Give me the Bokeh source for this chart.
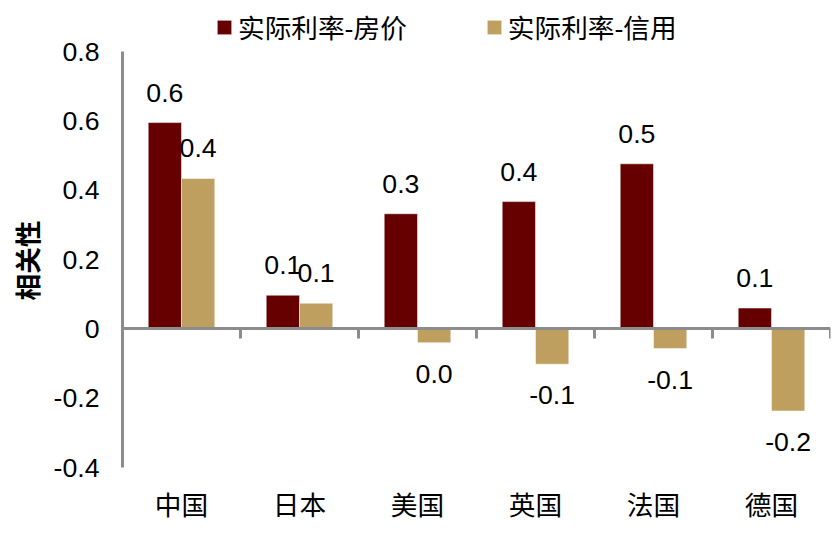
from bokeh.plotting import figure
from bokeh.models import ColumnDataSource, Range1d, LinearAxis, FixedTicker, Legend, LegendItem, Title
from bokeh.core.properties import value
from bokeh.embed import file_html
from bokeh.resources import INLINE

# ---- data ----
categories = ["中国", "日本", "美国", "英国", "法国", "德国"]
series_names = ["实际利率-房价", "实际利率-信用"]
house = [0.595, 0.097, 0.332, 0.367, 0.476, 0.060]
credit = [0.434, 0.074, -0.040, -0.102, -0.057, -0.237]
house_labels = ["0.6", "0.1", "0.3", "0.4", "0.5", "0.1"]
credit_labels = ["0.4", "0.1", "0.0", "-0.1", "-0.1", "-0.2"]
y_ticks = [-0.4, -0.2, 0, 0.2, 0.4, 0.6, 0.8]
y_tick_labels = ["-0.4", "-0.2", "0", "0.2", "0.4", "0.6", "0.8"]
y_title = "相关性"

# ---- style / layout ----
FONT = "'Liberation Sans', 'Noto Sans CJK SC', sans-serif"
FS = "20pt"
RED = "#660000"
TAN = "#BF9F5F"
GRAY = "#8C8C8C"
BAR_W = 0.282
Y_MIN, Y_MAX = y_ticks[0], y_ticks[-1]
AXIS_PX = 416                      # pixel height of the -0.4 .. 0.8 span
TOP_B, BOTTOM_B = 12, 67
FRAME_H = 534 - TOP_B - BOTTOM_B   # frame extends above 0.8 to hold the legend
px_per_unit = AXIS_PX / (Y_MAX - Y_MIN)
y_top = Y_MIN + FRAME_H / px_per_unit

n = len(categories)
centers = [i + 0.5 for i in range(n)]

p = figure(frame_width=708, frame_height=FRAME_H, x_range=Range1d(0, n),
           y_range=Range1d(Y_MIN, y_top),
           output_backend="svg", toolbar_location=None,
           x_axis_location=None, y_axis_location=None,
           min_border_left=122, min_border_right=9, min_border_top=TOP_B,
           min_border_bottom=BOTTOM_B)
p.outline_line_color = None
p.xgrid.visible = False
p.ygrid.visible = False
p.background_fill_color = "white"
p.border_fill_color = "white"

src_h = ColumnDataSource(dict(x=[c - BAR_W / 2 for c in centers], top=house, lab=house_labels,
                              off=[-30 if v >= 0 else 31 for v in house]))
src_c = ColumnDataSource(dict(x=[c + BAR_W / 2 for c in centers], top=credit, lab=credit_labels,
                              off=[-30 if v >= 0 else 31 for v in credit]))

r1 = p.vbar(x="x", top="top", bottom=0, width=BAR_W, source=src_h, fill_color=RED,
            line_color="white", line_alpha=0.5, line_width=1)
r2 = p.vbar(x="x", top="top", bottom=0, width=BAR_W, source=src_c, fill_color=TAN,
            line_color="white", line_alpha=0.5, line_width=1)

for s in (src_h, src_c):
    p.text(x="x", y="top", text="lab", y_offset="off", source=s, text_align="center",
           text_baseline="middle", text_font=value(FONT), text_font_size=FS, text_color="black")

# y axis (line only spans -0.4 .. 0.8)
yaxis = LinearAxis(ticker=FixedTicker(ticks=y_ticks),
                   major_label_overrides=dict(zip(y_ticks, y_tick_labels)),
                   bounds=(Y_MIN, Y_MAX))
yaxis.axis_line_color = GRAY
yaxis.axis_line_width = 3
yaxis.major_tick_line_color = None
yaxis.minor_tick_line_color = None
yaxis.major_label_standoff = 17
yaxis.major_label_text_font = FONT
yaxis.major_label_text_font_size = FS
yaxis.major_label_text_color = "black"
p.add_layout(yaxis, "left")

# y title, placed from the bottom of the frame so it sits mid-way along -0.4 .. 0.8
ytitle = Title(text=y_title, align="left", offset=167, standoff=13,
               text_font=FONT, text_font_size=FS, text_font_style="bold", text_color="black")
p.add_layout(ytitle, "left")

# category labels at bottom
xaxis = LinearAxis(ticker=FixedTicker(ticks=centers),
                   major_label_overrides=dict(zip(centers, categories)))
xaxis.axis_line_color = None
xaxis.major_tick_line_color = None
xaxis.minor_tick_line_color = None
xaxis.major_label_standoff = 17
xaxis.major_label_text_font = FONT
xaxis.major_label_text_font_size = FS
xaxis.major_label_text_color = "black"
p.add_layout(xaxis, "below")

# zero line axis with separator ticks
bounds = list(range(n + 1))
zaxis = LinearAxis(fixed_location=0, ticker=FixedTicker(ticks=bounds),
                   major_label_overrides={b: "" for b in bounds})
zaxis.axis_line_color = GRAY
zaxis.axis_line_width = 3
zaxis.major_tick_line_color = GRAY
zaxis.major_tick_line_width = 3
zaxis.major_tick_in = 10
zaxis.major_tick_out = 0
zaxis.minor_tick_line_color = None
zaxis.major_label_standoff = 0
zaxis.major_label_text_font_size = "1px"
p.add_layout(zaxis, "above")

legend = Legend(items=[LegendItem(label=series_names[0], renderers=[r1]),
                       LegendItem(label=series_names[1], renderers=[r2])],
                orientation="horizontal", location=(93, 421), padding=0, margin=0,
                border_line_color=None, background_fill_alpha=0,
                glyph_width=18, glyph_height=18, label_standoff=5, spacing=78,
                label_text_font=FONT, label_text_font_size=FS, label_text_color="black")
p.add_layout(legend, "center")

open("out.html", "w").write(file_html(p, INLINE))
